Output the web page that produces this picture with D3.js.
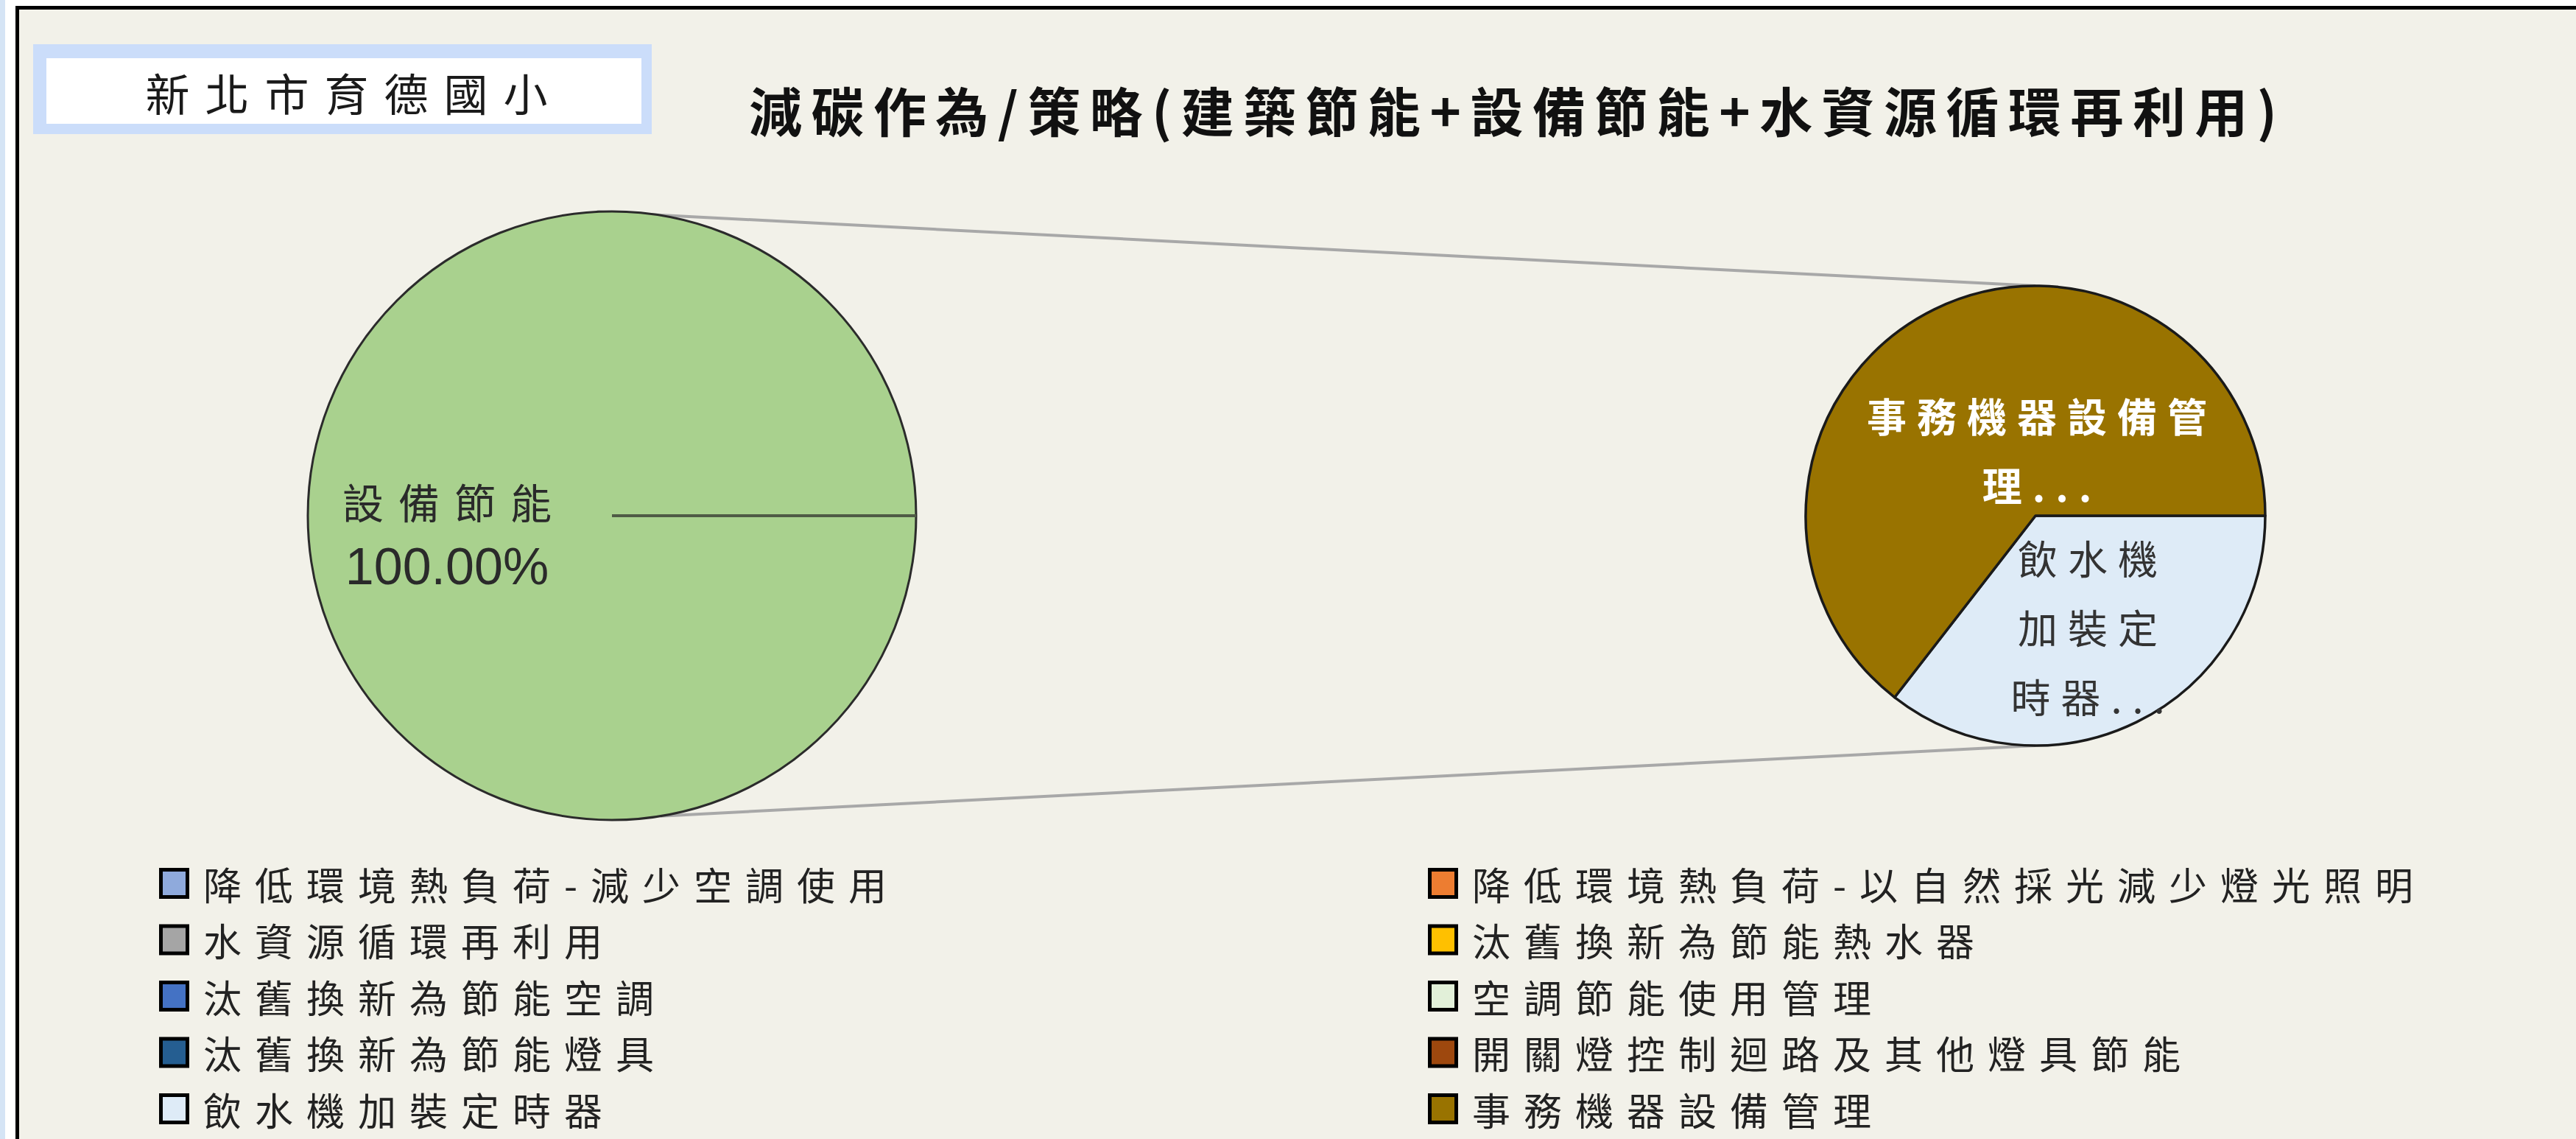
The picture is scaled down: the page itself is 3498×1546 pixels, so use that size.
<!DOCTYPE html>
<html>
<head>
<meta charset="utf-8">
<script src="https://cdn.jsdelivr.net/npm/d3@7"></script>
<style>
  html, body { margin: 0; padding: 0; background: #fff; }
  svg { display: block; }
  text { font-family: "Noto Sans CJK TC", "Noto Sans CJK SC", sans-serif; }
</style>
</head>
<body>
<div id="chart"></div>
<script>
//----------------------------
// pie-of-pie chart, school carbon reduction
//----------------------------
const WIDTH = 3498;
const HEIGHT = 1546;

// legend categories (row-major, two columns as in the legend)
const categories = [
  "降低環境熱負荷-減少空調使用",
  "降低環境熱負荷-以自然採光減少燈光照明",
  "水資源循環再利用",
  "汰舊換新為節能熱水器",
  "汰舊換新為節能空調",
  "空調節能使用管理",
  "汰舊換新為節能燈具",
  "開關燈控制迴路及其他燈具節能",
  "飲水機加裝定時器",
  "事務機器設備管理",
];
const categoryColors = [
  "#8FAADC", "#ED7D31", "#A5A5A5", "#FFC000", "#4472C4",
  "#E2F0D9", "#255E91", "#9E480E", "#DEEBF7", "#997300",
];

// primary pie: everything rolled up into one slice
const mainLabels = ["設備節能"];
const mainValues = [100];
const mainColors = ["#A9D18E"];
const mainLabelText = ["100.00%"];

// secondary pie: breakdown of the rolled up slice
const subLabels = ["飲水機加裝定時器", "事務機器設備管理"];
const subValues = [35.5, 64.5];
const subColors = ["#DEEBF7", "#997300"];
// labels are truncated the way the spreadsheet shows them
const subLabelLines = [["飲水機", "加裝定", "時器..."], ["事務機器設備管", "理..."]];

const schoolName = "新北市育德國小";
const chartTitle = "減碳作為/策略(建築節能+設備節能+水資源循環再利用)";

const svg = d3.select("#chart")
  .append("svg")
  .attr("width", WIDTH)
  .attr("height", HEIGHT);

// page strip on the left and the chart frame
svg.append("rect").attr("x", 0).attr("y", 0).attr("width", 7).attr("height", HEIGHT).attr("fill", "#D5E4F5");
svg.append("rect")
  .attr("x", 23.5).attr("y", 10.5)
  .attr("width", WIDTH).attr("height", HEIGHT)
  .attr("fill", "#F2F1E9")
  .attr("stroke", "#000")
  .attr("stroke-width", 5);

// school name box
svg.append("rect").attr("x", 45).attr("y", 60).attr("width", 840).attr("height", 122).attr("fill", "#CBDDFA");
svg.append("rect").attr("x", 63).attr("y", 79).attr("width", 808).attr("height", 89).attr("fill", "#fff");
svg.append("text")
  .attr("x", 481).attr("y", 124)
  .attr("text-anchor", "middle")
  .attr("dominant-baseline", "central")
  .attr("font-size", 60)
  .attr("letter-spacing", 21)
  .attr("fill", "#1a1a1a")
  .text(schoolName);

// title
svg.append("text")
  .attr("x", 1017).attr("y", 147)
  .attr("dominant-baseline", "central")
  .attr("font-size", 72)
  .attr("font-weight", 700)
  .attr("textLength", 2075)
  .attr("lengthAdjust", "spacing")
  .attr("fill", "#111")
  .text(chartTitle);

// pies
const main = { cx: 831, cy: 700, r: 413 };
const sub = { cx: 2764, cy: 700, r: 312 };

const pie = d3.pie()
  .sort(null)
  .value((d) => d)
  .startAngle(Math.PI / 2)
  .endAngle(Math.PI / 2 + 2 * Math.PI);

const pointAt = (p, a) => [p.cx + p.r * Math.sin(a), p.cy - p.r * Math.cos(a)];

// connector lines between the two pies
const connectors = [
  [pointAt(main, -0.05), pointAt(sub, 0)],
  [pointAt(main, Math.PI - 0.16), pointAt(sub, Math.PI)],
];
svg.selectAll(".connector")
  .data(connectors)
  .enter()
  .append("line")
  .attr("class", "connector")
  .attr("x1", (d) => d[0][0]).attr("y1", (d) => d[0][1])
  .attr("x2", (d) => d[1][0]).attr("y2", (d) => d[1][1])
  .attr("stroke", "#A8A8A8")
  .attr("stroke-width", 4);

// primary pie
const mainArc = d3.arc().innerRadius(0).outerRadius(main.r);
const gMain = svg.append("g").attr("transform", `translate(${main.cx},${main.cy})`);
const mainArcs = pie(mainValues);
gMain.selectAll("path")
  .data(mainArcs)
  .enter()
  .append("path")
  .attr("d", mainArc)
  .attr("fill", (d, i) => mainColors[i])
  .attr("stroke", "#2b2b2b")
  .attr("stroke-width", 3);
// slice edge (full circle has no radial edge in the arc path)
gMain.selectAll(".edge")
  .data(mainArcs)
  .enter()
  .append("line")
  .attr("class", "edge")
  .attr("x1", 0).attr("y1", 0)
  .attr("x2", (d) => main.r * Math.sin(d.startAngle))
  .attr("y2", (d) => -main.r * Math.cos(d.startAngle))
  .attr("stroke", "#4f5b45")
  .attr("stroke-width", 4);

const mainText = gMain.append("text")
  .attr("text-anchor", "middle")
  .attr("fill", "#2a2a2a");
mainText.append("tspan")
  .attr("x", -214).attr("y", -21)
  .attr("dominant-baseline", "central")
  .attr("font-size", 56)
  .attr("letter-spacing", 20)
  .text(mainLabels[0]);
mainText.append("tspan")
  .attr("x", -224).attr("y", 69)
  .attr("dominant-baseline", "central")
  .attr("font-family", "'Liberation Sans', Arial, sans-serif")
  .attr("font-size", 70)
  .text(mainLabelText[0]);

// secondary pie
const subArc = d3.arc().innerRadius(0).outerRadius(sub.r);
const gSub = svg.append("g").attr("transform", `translate(${sub.cx},${sub.cy})`);
gSub.selectAll("path")
  .data(pie(subValues))
  .enter()
  .append("path")
  .attr("d", subArc)
  .attr("fill", (d, i) => subColors[i])
  .attr("stroke", "#1a1a1a")
  .attr("stroke-width", 3.5)
  .attr("stroke-linejoin", "round");

// secondary labels
const subLabelPos = [
  { x: 71, y: 56, color: "#333", weight: 400 },
  { x: 2, y: -137, color: "#fff", weight: 700 },
];
subLabelLines.forEach((lines, i) => {
  const t = gSub.append("text")
    .attr("text-anchor", "middle")
    .attr("font-size", 54)
    .attr("letter-spacing", 14)
    .attr("font-weight", subLabelPos[i].weight)
    .attr("fill", subLabelPos[i].color);
  lines.forEach((line, j) => {
    t.append("tspan")
      .attr("x", subLabelPos[i].x + 7)
      .attr("y", subLabelPos[i].y + j * 94)
      .attr("dominant-baseline", "central")
      .text(line);
  });
});

// legend, two columns
const legendCols = [216, 1939];
const legendTop = 1199;
const legendStep = 76.5;
const legend = svg.selectAll(".legend")
  .data(categories)
  .enter()
  .append("g")
  .attr("class", "legend")
  .attr("transform", (d, i) => `translate(${legendCols[i % 2]},${legendTop + Math.floor(i / 2) * legendStep})`);

legend.append("rect")
  .attr("x", 2.5).attr("y", -18.5)
  .attr("width", 36).attr("height", 37)
  .attr("fill", (d, i) => categoryColors[i])
  .attr("stroke", "#000")
  .attr("stroke-width", 5);

legend.append("text")
  .attr("x", 60).attr("y", 0)
  .attr("dominant-baseline", "central")
  .attr("font-size", 52)
  .attr("letter-spacing", 18)
  .attr("fill", "#222")
  .text((d) => d);
</script>
</body>
</html>
